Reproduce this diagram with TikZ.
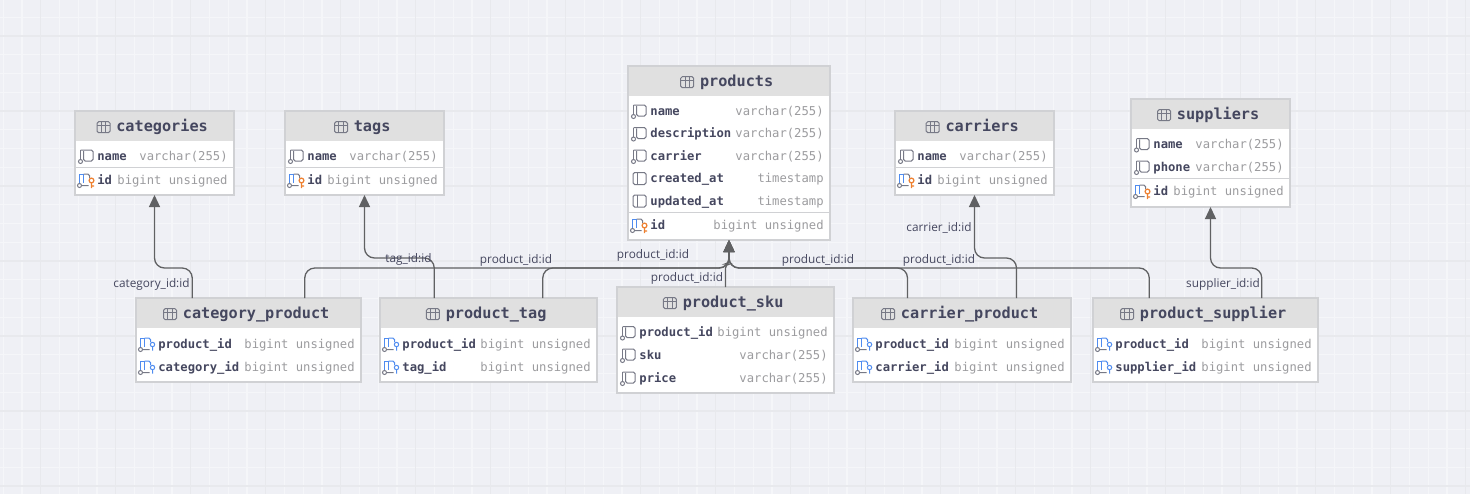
\documentclass[tikz,border=0pt]{standalone}
\usepackage{fontspec}
\usepackage{xcolor}
\usetikzlibrary{arrows.meta,calc,fit}
\newfontfamily\codefont{DejaVu Sans Mono}
\newfontfamily\labfont{Open Sans}
\definecolor{paper}{HTML}{EFF0F5}
\definecolor{gridmajor}{HTML}{E8E9ED}
\definecolor{gridminor}{HTML}{F5F6F9}
\definecolor{border}{HTML}{D0D1D4}
\definecolor{headfill}{HTML}{E0E0E0}
\definecolor{ink}{HTML}{45475F}
\definecolor{muted}{HTML}{9C9C9F}
\definecolor{wire}{HTML}{606163}
\definecolor{iconc}{HTML}{777986}
\definecolor{fkblue}{HTML}{4F8CF0}
\definecolor{pkorange}{HTML}{EE8030}
\tikzset{
  majorline/.style={draw=gridmajor, line width=0.6pt},
  minorline/.style={draw=gridminor, line width=0.6pt},
  tbl/.style={draw=border, line width=0.75pt, fill=white, inner sep=0pt, outer sep=0pt},
  tblhead/.style={fill=headfill, inner sep=0pt, outer sep=0pt},
  sepline/.style={draw=border, line width=0.5pt},
  title/.style={text=ink, font=\codefont\bfseries\fontsize{7.6}{9}\selectfont, inner sep=0pt, text height=5.6pt, text depth=1.4pt},
  colname/.style={text=ink, font=\codefont\bfseries\fontsize{6.1}{8}\selectfont, inner sep=0pt, anchor=west, text height=4.6pt, text depth=1.2pt},
  coltype/.style={text=muted, font=\codefont\fontsize{6.1}{8}\selectfont, inner sep=0pt, anchor=east, text height=4.6pt, text depth=1.2pt},
  lab/.style={text=ink, font=\labfont\fontsize{5.9}{7}\selectfont, inner sep=0pt},
  rel/.style={draw=wire, line width=0.65pt, rounded corners=5pt, -{Triangle[length=6pt,width=5.5pt]}},
  ic/.style={draw=iconc, line width=0.5pt},
  tblicon/.pic={
    \draw[ic, rounded corners=0.8pt] (-6.5,-5.5) rectangle (6.5,5.5);
    \draw[ic] (-6.5,-2) -- (6.5,-2) (-2.2,-5.5) -- (-2.2,5.5) (2.2,-5.5) -- (2.2,5.5);
  },
  colicon/.pic={
    \draw[ic, rounded corners=0.8pt] (-6,-6) -- (6.5,-6) -- (6.5,5) -- (-3,5) -- (-3,-5);
    \draw[ic] (-6,-6) -- (-6,3);
    \draw[ic] (-6,5.5) circle (2);
  },
  flaticon/.pic={
    \draw[ic, rounded corners=0.8pt] (-6.5,-6) rectangle (6.5,6);
    \draw[ic] (-2.5,-6) -- (-2.5,6);
  },
  fkicon/.pic={
    \draw[draw=fkblue, line width=0.5pt] (-3,3) -- (-3,-6) -- (-7,-6) -- (-7,3);
    \draw[draw=fkblue, line width=0.5pt, rounded corners=0.8pt] (-3,-6) -- (3,-6) -- (3,-2);
    \draw[ic] (-7,5.5) circle (2) (-5,5.5) -- (2,5.5);
    \draw[draw=fkblue, line width=0.5pt] (5,0.5) circle (2.2) (5,2.7) -- (5,6.5);
  },
  pkicon/.pic={
    \draw[draw=fkblue, line width=0.5pt] (-3,3) -- (-3,-6) -- (-7,-6) -- (-7,3);
    \draw[ic, rounded corners=0.8pt] (-3,-6) -- (3,-6) -- (3,-2);
    \draw[ic] (-7,5.5) circle (2) (-5,5.5) -- (2,5.5);
    \draw[draw=pkorange, line width=0.6pt] (5,0.5) circle (2.4) (5,2.9) -- (5,8) (5,6) -- (7.5,6);
  }
}
% box, header and title of one table: name, x1, y1, x2, y2, title
\newcommand{\dbtable}[6]{
  \node[tbl, fit={(#2,#3) (#4,#5)}] (#1) {};
  \node[tblhead, fit={(#2,#3) (#4,#3+30)}] (#1-head) {};
  \draw[tbl, fill=none] (#1.north west) rectangle (#1.south east);
  \node[title] (#1-title) at ([xshift=3.8pt,yshift=-0.6pt]#1-head.center) {#6};
  \pic at ([xshift=-6.2pt]#1-title.west) {tblicon};
  \coordinate (#1L) at ($(#1.north)!.5!(#1.north west)$);
  \coordinate (#1R) at ($(#1.north)!.5!(#1.north east)$);
}
% one column: table, key, y, icon, name, type
\newcommand{\dbrow}[6]{
  \pic at ([xshift=5.75pt]#1.west |- 0,#3) {#4};
  \node[colname] (#1-#2) at ([xshift=11pt,yshift=-0.5pt]#1.west |- 0,#3) {#5};
  \node[coltype] (#1-#2t) at ([xshift=-3pt,yshift=-0.5pt]#1.east |- 0,#3) {#6};
}
\newcommand{\dbsep}[2]{
  \draw[sepline] (#1.west |- 0,#2) -- (#1.east |- 0,#2);
}

\begin{document}
\begin{tikzpicture}[x=0.5pt, y=-0.5pt]
  \useasboundingbox (0,0) rectangle (1470,494);
  \fill[paper] (0,0) rectangle (1470,494);
  % grid
  \foreach \i in {-2,...,78} {
    \draw[minorline] ({3.2+18.75*\i},0) -- ({3.2+18.75*\i},494);
  }
  \foreach \i in {-1,...,26} {
    \draw[minorline] (0,{17.25+18.75*\i}) -- (1470,{17.25+18.75*\i});
  }
  \foreach \i in {0,...,19} {
    \draw[majorline] ({40.7+75*\i},0) -- ({40.7+75*\i},494);
  }
  \foreach \i in {0,...,6} {
    \draw[majorline] (0,{36+75*\i}) -- (1470,{36+75*\i});
  }

  % tables
  \dbtable{categories}{75}{111}{234}{195}{categories}
  \dbrow{categories}{a}{156}{colicon}{name}{varchar(255)}
  \dbsep{categories}{167}
  \dbrow{categories}{b}{180}{pkicon}{id}{bigint unsigned}

  \dbtable{tags}{285}{111}{444}{195}{tags}
  \dbrow{tags}{a}{156}{colicon}{name}{varchar(255)}
  \dbsep{tags}{167}
  \dbrow{tags}{b}{180}{pkicon}{id}{bigint unsigned}

  \dbtable{products}{628}{66}{830}{240}{products}
  \dbrow{products}{a}{111}{colicon}{name}{varchar(255)}
  \dbrow{products}{b}{133.5}{colicon}{description}{varchar(255)}
  \dbrow{products}{c}{156}{colicon}{carrier}{varchar(255)}
  \dbrow{products}{d}{178.5}{flaticon}{created\_at}{timestamp}
  \dbrow{products}{e}{201}{flaticon}{updated\_at}{timestamp}
  \dbsep{products}{212.5}
  \dbrow{products}{f}{225}{pkicon}{id}{bigint unsigned}

  \dbtable{carriers}{895}{111}{1054}{195}{carriers}
  \dbrow{carriers}{a}{156}{colicon}{name}{varchar(255)}
  \dbsep{carriers}{167}
  \dbrow{carriers}{b}{180}{pkicon}{id}{bigint unsigned}

  \dbtable{suppliers}{1131}{99}{1290}{207}{suppliers}
  \dbrow{suppliers}{a}{144.5}{colicon}{name}{varchar(255)}
  \dbrow{suppliers}{b}{167}{colicon}{phone}{varchar(255)}
  \dbsep{suppliers}{178.5}
  \dbrow{suppliers}{c}{191}{pkicon}{id}{bigint unsigned}

  \dbtable{catprod}{136}{298}{361}{382}{category\_product}
  \dbrow{catprod}{a}{344}{fkicon}{product\_id}{bigint unsigned}
  \dbrow{catprod}{b}{367}{fkicon}{category\_id}{bigint unsigned}

  \dbtable{prodtag}{380}{298}{597}{382}{product\_tag}
  \dbrow{prodtag}{a}{344}{fkicon}{product\_id}{bigint unsigned}
  \dbrow{prodtag}{b}{367}{fkicon}{tag\_id}{bigint unsigned}

  \dbtable{prodsku}{617}{287}{834}{393}{product\_sku}
  \dbrow{prodsku}{a}{332.5}{colicon}{product\_id}{bigint unsigned}
  \dbrow{prodsku}{b}{355}{colicon}{sku}{varchar(255)}
  \dbrow{prodsku}{c}{378}{colicon}{price}{varchar(255)}

  \dbtable{carprod}{853}{298}{1071}{382}{carrier\_product}
  \dbrow{carprod}{a}{344}{fkicon}{product\_id}{bigint unsigned}
  \dbrow{carprod}{b}{367}{fkicon}{carrier\_id}{bigint unsigned}

  \dbtable{prodsup}{1093}{298}{1318}{382}{product\_supplier}
  \dbrow{prodsup}{a}{344}{fkicon}{product\_id}{bigint unsigned}
  \dbrow{prodsup}{b}{367}{fkicon}{supplier\_id}{bigint unsigned}

  % relations
  \draw[rel] (catprodL) -- ++(0,-30) -| (categories.south);
  \draw[rel] (catprodR) -- ++(0,-30) -| (products.south);
  \draw[rel] (prodtagL) -- ++(0,-40) -| (tags.south);
  \draw[rel] (prodtagR) -- ++(0,-30) -| (products.south);
  \draw[rel, rounded corners=2pt] (prodsku.north) -- ++(0,-23) -| (products.south);
  \draw[rel] (carprodL) -- ++(0,-30) -| (products.south);
  \draw[rel] (carprodR) -- ++(0,-40) -| (carriers.south);
  \draw[rel] (prodsupL) -- ++(0,-30) -| (products.south);
  \draw[rel] (prodsupR) -- ++(0,-30) -| (suppliers.south);

  % labels
  \node[lab] (lab1) at (151.5,284) {category\_id:id};
  \node[lab] (lab2) at (408.5,259) {tag\_id:id};
  \node[lab] (lab3) at (516,260.5) {product\_id:id};
  \node[lab] (lab4) at (653,255) {product\_id:id};
  \node[lab] (lab5) at (687,278.5) {product\_id:id};
  \node[lab] (lab6) at (818,260.5) {product\_id:id};
  \node[lab] (lab7) at (939,260.5) {product\_id:id};
  \node[lab] (lab8) at (939,227.5) {carrier\_id:id};
  \node[lab] (lab9) at (1223,284) {supplier\_id:id};
\end{tikzpicture}
\end{document}
